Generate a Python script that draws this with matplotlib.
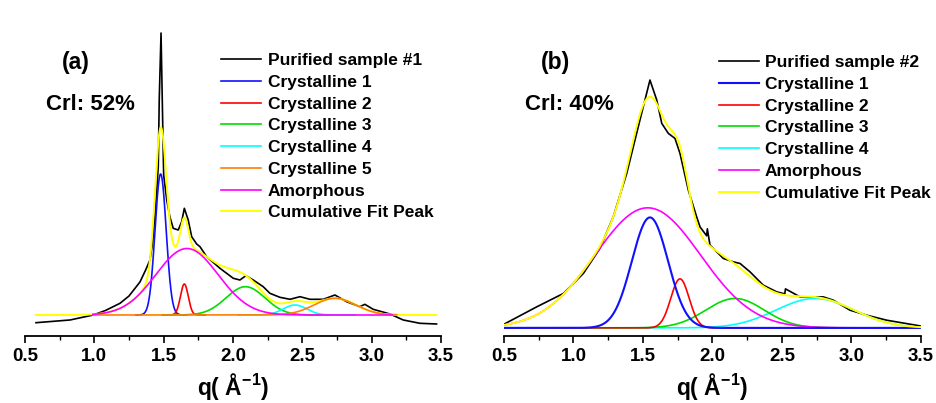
import numpy as np
import matplotlib
matplotlib.use("Agg")
import matplotlib.pyplot as plt
from matplotlib.ticker import MultipleLocator

plt.rcParams['font.family'] = ['Liberation Sans', 'DejaVu Sans']
plt.rcParams['font.weight'] = 'bold'
plt.rcParams['axes.labelweight'] = 'bold'
plt.rcParams['mathtext.fontset'] = 'custom'
plt.rcParams['mathtext.rm'] = 'Liberation Sans:bold'
plt.rcParams['mathtext.bf'] = 'Liberation Sans:bold'
plt.rcParams['mathtext.default'] = 'bf'

x_ticks = [0.5, 1.0, 1.5, 2.0, 2.5, 3.0, 3.5]
x_ticklabels = ["0.5", "1.0", "1.5", "2.0", "2.5", "3.0", "3.5"]

# ---- panel (a): measured curve, purified sample #1 (arbitrary intensity)
q_a = [0.579, 0.824, 0.992, 1.080, 1.185, 1.250, 1.329, 1.370, 1.401, 1.420,
       1.437, 1.461, 1.468, 1.481, 1.492, 1.500, 1.522, 1.545, 1.569, 1.605,
       1.630, 1.649, 1.677, 1.702, 1.738, 1.762, 1.810, 1.906, 2.002, 2.050,
       2.093, 2.146, 2.218, 2.266, 2.338, 2.411, 2.483, 2.555, 2.651, 2.735,
       2.819, 2.915, 2.951, 3.011, 3.132, 3.228, 3.348, 3.468]
i_a = [-7.7, -5.0, 0.0, 4.5, 11.7, 19.0, 33.0, 45.0, 55.0, 72.0,
       98.3, 148.3, 215.0, 282.0, 200.0, 140.0, 115.0, 98.0, 86.7, 85.0,
       93.3, 106.7, 95.0, 78.3, 71.0, 68.3, 58.3, 46.7, 36.7, 35.0,
       39.3, 35.0, 28.3, 21.7, 17.7, 15.7, 18.3, 15.7, 15.7, 20.0,
       13.3, 8.3, 10.7, 5.7, 1.0, -5.0, -8.3, -9.0]

# fitted peaks (a): centre, height, width
names_a = ["Crystalline 1", "Crystalline 2", "Crystalline 3",
           "Crystalline 4", "Crystalline 5", "Amorphous"]
center_a = [1.478, 1.649, 2.090, 2.447, 2.735, 1.668]
height_a = [141.0, 31.0, 28.3, 10.0, 16.7, 66.5]
width_a = [0.040, 0.028, 0.140, 0.085, 0.150, 0.225]
span_a = [(1.30, 1.66), (1.49, 1.80), (1.50, 2.70), (2.04, 2.88),
          (0.99, 3.18), (0.99, 3.15)]
colors_a = ['#1010ff', '#ff0000', '#00dd00', '#00ffff', '#ff7f00', '#ff00ff']

# ---- panel (b): measured curve, purified sample #2
q_b = [0.500, 0.735, 0.927, 1.071, 1.190, 1.286, 1.383, 1.466, 1.550, 1.599,
       1.635, 1.682, 1.730, 1.766, 1.826, 1.886, 1.910, 1.958, 1.963, 1.982,
       2.078, 2.150, 2.198, 2.270, 2.365, 2.462, 2.520, 2.525, 2.630, 2.797,
       2.869, 2.989, 3.109, 3.253, 3.493]
i_b = [3.7, 21.0, 34.4, 54.4, 79.4, 111.0, 154.4, 201.0, 247.7, 227.7,
       204.4, 194.4, 189.4, 174.4, 137.7, 111.0, 101.0, 92.0, 99.0, 82.7,
       69.4, 66.0, 64.4, 56.0, 42.7, 36.0, 34.0, 39.0, 31.0, 31.0,
       27.7, 17.7, 12.7, 7.7, 2.0]

names_b = ["Crystalline 1", "Crystalline 2", "Crystalline 3",
           "Crystalline 4", "Amorphous"]
center_b = [1.550, 1.766, 2.162, 2.737, 1.534]
height_b = [110.4, 49.0, 29.4, 29.4, 120.0]
width_b = [0.130, 0.066, 0.210, 0.280, 0.380]
colors_b = ['#1010ff', '#ff0000', '#00dd00', '#00ffff', '#ff00ff']


def gauss(x, c, h, w):
    return h * np.exp(-(x - c) ** 2 / (2 * w ** 2))


def style_axis(ax):
    ax.set_xlim(0.5, 3.5)
    ax.set_yticks([])
    for s in ['left', 'right', 'top']:
        ax.spines[s].set_visible(False)
    ax.spines['bottom'].set_linewidth(1.3)
    ax.set_xticks(x_ticks)
    ax.set_xticklabels(x_ticklabels, fontsize=13.5, fontweight='bold')
    ax.xaxis.set_minor_locator(MultipleLocator(0.25))
    ax.tick_params(axis='x', which='major', direction='out', length=5,
                   width=1.2, pad=4)
    ax.tick_params(axis='x', which='minor', direction='out', length=3,
                   width=1.0)
    ax.set_xlabel('q( Å$^{-1}$)', fontsize=16.5, fontweight='bold', labelpad=4)
    ax.patch.set_alpha(0)


W, H = 937, 403
fig = plt.figure(figsize=(W / 100, H / 100), dpi=100)
ax_a = fig.add_axes([25 / W, (H - 335.5) / H, 416 / W, 315.5 / H])
ax_b = fig.add_axes([504 / W, (H - 335.5) / H, 417 / W, 315.5 / H])
lw = 1.2
leg_kw = dict(loc='upper left', bbox_transform=fig.transFigure, frameon=False,
              fontsize=12.5, handlelength=2.3, handletextpad=0.35,
              labelspacing=0.38, borderpad=0, borderaxespad=0)

# panel (a)
xa = np.linspace(min(q_a), max(q_a), 1500)
l_black, = ax_a.plot(q_a, i_a, color='black', lw=lw, zorder=1)
total_a = np.zeros_like(xa)
for c, h, w in zip(center_a, height_a, width_a):
    total_a += gauss(xa, c, h, w)
l_yel, = ax_a.plot(xa, total_a, color='#ffff00', lw=lw + 0.2, zorder=2)
comp_lines = []
for k in range(len(names_a)):
    lo, hi = span_a[k]
    xs = np.linspace(lo, hi, 600)
    ln, = ax_a.plot(xs, gauss(xs, center_a[k], height_a[k], width_a[k]),
                    color=colors_a[k], lw=lw, zorder=3 + k)
    comp_lines.append(ln)
ax_a.set_ylim(-20.5, 295)
style_axis(ax_a)
ax_a.legend([l_black] + comp_lines + [l_yel],
            ["Purified sample #1"] + names_a + ["Cumulative Fit Peak"],
            bbox_to_anchor=(221.5 / W, 1 - 53 / H), **leg_kw)

# panel (b)
xb = np.linspace(0.5, 3.5, 1500)
l_black_b, = ax_b.plot(q_b, i_b, color='black', lw=lw, zorder=1)
order_b = [3, 2, 1, 4, 0]
lines_b = {}
total_b = np.zeros_like(xb)
for z, k in enumerate(order_b):
    yk = gauss(xb, center_b[k], height_b[k], width_b[k])
    total_b += yk
    ln, = ax_b.plot(xb, yk, color=colors_b[k], lw=lw + (0.3 if k == 0 else 0),
                    zorder=2 + z)
    lines_b[k] = ln
l_yel_b, = ax_b.plot(xb, total_b, color='#ffff00', lw=lw + 0.2, zorder=10)
ax_b.set_ylim(-7.6, 307.7)
style_axis(ax_b)
ax_b.legend([l_black_b] + [lines_b[k] for k in range(len(names_b))] + [l_yel_b],
            ["Purified sample #2"] + names_b + ["Cumulative Fit Peak"],
            bbox_to_anchor=(719 / W, 1 - 55 / H), **leg_kw)

# panel labels
fig.text(76 / W, 1 - 62 / H, '(a)', ha='center', va='center', fontsize=16.5)
fig.text(46 / W, 1 - 105 / H, 'Crl: 52%', ha='left', va='center', fontsize=16)
fig.text(556 / W, 1 - 62 / H, '(b)', ha='center', va='center', fontsize=16.5)
fig.text(525 / W, 1 - 105 / H, 'Crl: 40%', ha='left', va='center', fontsize=16)

fig.savefig("out.png", dpi=100, facecolor='white')
